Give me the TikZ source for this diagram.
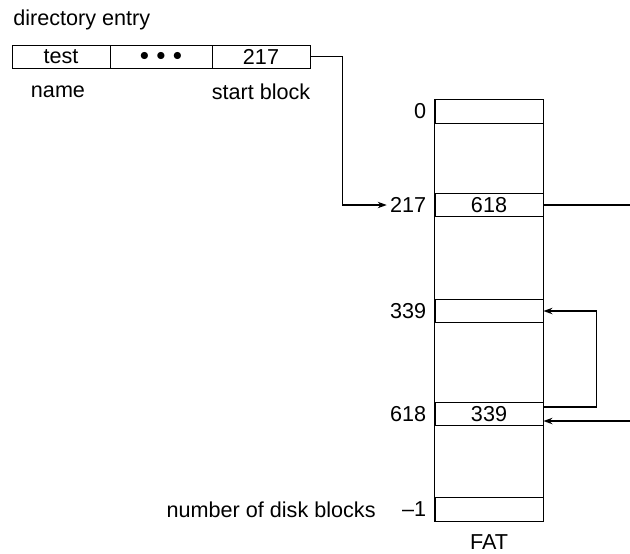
\documentclass[tikz,border=0pt]{standalone}
\usepackage{fontspec}
\setmainfont{Liberation Sans}
\usetikzlibrary{arrows.meta}

\begin{document}
\begin{tikzpicture}[
  x=0.5pt, y=-0.5pt,
  font=\fontsize{10.8}{13}\selectfont,
  filo/.style={draw=black, line width=0.45pt},
  collegamento/.style={draw=black, line width=0.75pt},
  freccia/.style={collegamento, -{Stealth[length=4.5pt, width=3.2pt]}},
  cella/.style={draw=black, line width=0.45pt, inner sep=0pt, minimum width=49pt, minimum height=11.5pt},
  riga/.style={draw=black, line width=0.45pt, inner sep=0pt, minimum width=54pt, minimum height=11.75pt},
  etichetta/.style={inner sep=1.5pt}
]
\useasboundingbox (0,0) rectangle (630,553);

%--------------------------------------------------------------
% Voce di directory
%--------------------------------------------------------------
\node[etichetta, anchor=west] (titolo) at (10,20) {directory entry};
\node[cella] (nome) at (61,56.5) {test};
\node[cella, minimum width=51pt] (altro) at (161,56.5) {\small$\bullet\,\bullet\,\bullet$};
\node[cella] (inizio) at (261,56.5) {217};
\node[etichetta] (etnome) at (58,92) {name};
\node[etichetta] (etinizio) at (261,92) {start block};

%--------------------------------------------------------------
% FAT
%--------------------------------------------------------------
\node[riga] (r0) at (489,111.5) {};
\node[riga] (r217) at (489,205) {618};
\node[riga] (r339) at (489,311) {};
\node[riga] (r618) at (489,414) {339};
\node[riga] (rfine) at (489,509.5) {};
\draw[filo] (r0.north west) rectangle (rfine.south east);
\node[etichetta, anchor=east] (e0) at ([xshift=-2.5pt]r0.west) {0};
\node[etichetta, anchor=east] (e217) at ([xshift=-2.5pt]r217.west) {217};
\node[etichetta, anchor=east] (e339) at ([xshift=-2.5pt]r339.west) {339};
\node[etichetta, anchor=east] (e618) at ([xshift=-2.5pt]r618.west) {618};
\node[etichetta, anchor=east] (efine) at ([xshift=-2.5pt]rfine.west) {–1};
\node[etichetta, anchor=east] (numblocchi) at (379,510) {number of disk blocks};
\node[etichetta] (fat) at (489,542) {FAT};

%--------------------------------------------------------------
% Catena dei blocchi
%--------------------------------------------------------------
\coordinate (uscita) at (630,205);
\coordinate (entrata) at (630,421);
\draw[freccia] (inizio.east) -- ++(32,0) |- (e217.west);
\draw[collegamento] (r217.east) -- (uscita);
\draw[freccia] ([yshift=3.5pt]r618.east) -- ++(53,0) |- (r339.east);
\draw[freccia] (entrata) -- ([yshift=-3.5pt]r618.east);

\end{tikzpicture}
\end{document}
